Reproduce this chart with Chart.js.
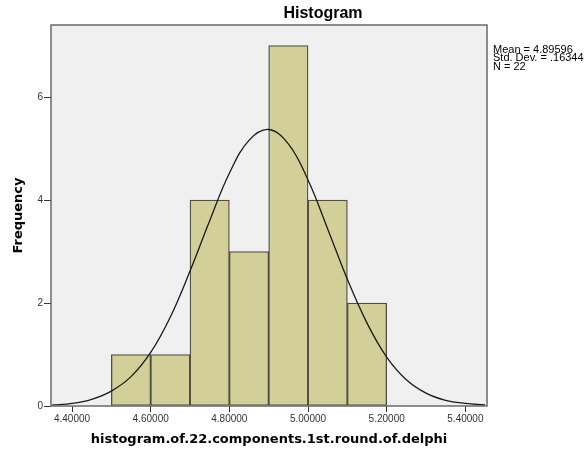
<!DOCTYPE html>
<html>
<head>
<meta charset="utf-8">
<script src="https://cdn.jsdelivr.net/npm/chart.js@4.4.1/dist/chart.umd.min.js"></script>
<style>
  html, body { margin: 0; padding: 0; background: #fff; }
  #wrap { width: 585px; height: 450px; position: relative; }
</style>
</head>
<body>
<div id="wrap"><canvas id="hist"></canvas></div>
<script>
// bins (lower edges), counts
const binStarts = [4.5, 4.6, 4.7, 4.8, 4.9, 5.0, 5.1];
const counts = [1, 1, 4, 3, 7, 4, 2];
const binWidth = 0.1;

// normal curve
const curveX = [4.35, 4.40, 4.45, 4.50, 4.55, 4.60, 4.65, 4.70, 4.75, 4.80, 4.85, 4.90,
                4.95, 5.00, 5.05, 5.10, 5.15, 5.20, 5.25, 5.30, 5.35, 5.40, 5.45];
const curveY = [0.02, 0.05, 0.13, 0.29, 0.57, 1.04, 1.73, 2.62, 3.60, 4.52, 5.16, 5.37,
                5.09, 4.39, 3.44, 2.46, 1.61, 0.95, 0.51, 0.25, 0.11, 0.05, 0.02];

const xTicks = [4.4, 4.6, 4.8, 5.0, 5.2, 5.4];
const yTicks = [0, 2, 4, 6];
const stats = ['Mean = 4.89596', 'Std. Dev. = .16344', 'N = 22'];

const barData = binStarts.map((b, i) => ({ x: b + binWidth / 2, y: counts[i] }));
const curveData = curveX.map((x, i) => ({ x: x, y: curveY[i] }));

const frame = {
  id: 'frame',
  beforeDatasetsDraw(chart) {
    const { ctx, chartArea: a } = chart;
    ctx.save();
    ctx.fillStyle = '#f0f0f0';
    ctx.fillRect(a.left, a.top, a.right - a.left, a.bottom - a.top);
    ctx.restore();
  },
  afterDraw(chart) {
    const { ctx, chartArea: a } = chart;
    ctx.save();
    ctx.strokeStyle = '#6a6a6a';
    ctx.lineWidth = 1.5;
    ctx.strokeRect(a.left, a.top, a.right - a.left, a.bottom - a.top);

    ctx.fillStyle = '#000';
    ctx.textAlign = 'center';
    ctx.textBaseline = 'middle';
    ctx.font = 'bold 16px "Liberation Sans", Arial, sans-serif';
    ctx.fillText('Histogram', 323, 14);

    ctx.font = 'bold 13px "DejaVu Sans", sans-serif';
    ctx.fillText('histogram.of.22.components.1st.round.of.delphi', (a.left + a.right) / 2, 440);

    ctx.save();
    ctx.translate(19, (a.top + a.bottom) / 2);
    ctx.rotate(-Math.PI / 2);
    ctx.fillText('Frequency', 0, 0);
    ctx.restore();

    // stats box text, slightly stretched like the original
    ctx.save();
    ctx.textAlign = 'left';
    ctx.font = '10px "Liberation Sans", Arial, sans-serif';
    ctx.translate(493, 0);
    ctx.scale(1.1, 1);
    stats.forEach((s, i) => ctx.fillText(s, 0, 50 + i * 8.5));
    ctx.restore();
    ctx.restore();
  }
};

new Chart(document.getElementById('hist'), {
  type: 'bar',
  data: {
    datasets: [
      {
        type: 'line',
        data: curveData,
        borderColor: '#1a1a1a',
        borderWidth: 1.3,
        pointRadius: 0,
        tension: 0.4,
        fill: false
      },
      {
        type: 'bar',
        data: barData,
        backgroundColor: '#d3cf98',
        borderColor: '#4e4e44',
        borderWidth: 1.3,
        borderSkipped: false,
        barPercentage: 1,
        categoryPercentage: 1
      }
    ]
  },
  options: {
    responsive: true,
    maintainAspectRatio: false,
    animation: false,
    layout: { padding: { left: 0, top: 25, right: 98, bottom: 0 } },
    plugins: { legend: { display: false }, tooltip: { enabled: false } },
    scales: {
      x: {
        type: 'linear',
        offset: false,
        min: 4.3466,
        max: 5.455,
        afterBuildTicks(s) { s.ticks = xTicks.map(v => ({ value: v })); },
        afterFit(s) { s.height = 44; },
        grid: { offset: false, drawOnChartArea: false, drawTicks: true, tickLength: 6, color: '#333' },
        border: { display: false },
        ticks: {
          padding: 1,
          color: '#333',
          font: { family: '"Liberation Sans", Arial, sans-serif', size: 10 },
          maxRotation: 0,
          callback: v => v.toFixed(5)
        }
      },
      y: {
        min: 0,
        max: 7.4,
        afterBuildTicks(s) { s.ticks = yTicks.map(v => ({ value: v })); },
        afterFit(s) { s.width = 51; },
        grid: { drawOnChartArea: false, drawTicks: true, tickLength: 7, color: '#333' },
        border: { display: false },
        ticks: {
          padding: 1,
          color: '#333',
          font: { family: '"Liberation Sans", Arial, sans-serif', size: 10 }
        }
      }
    }
  },
  plugins: [frame]
});
</script>
</body>
</html>
